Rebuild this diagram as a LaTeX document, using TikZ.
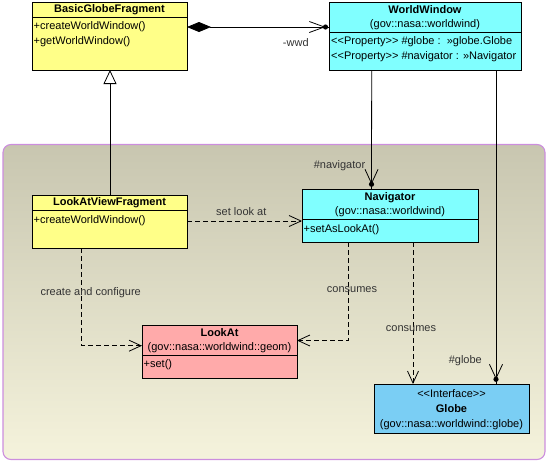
\documentclass[tikz,border=0pt]{standalone}
\usepackage{fontspec}
\setmainfont{Liberation Sans}[Ligatures=ResetAll]
\usetikzlibrary{arrows.meta,calc}
\definecolor{clsyellow}{HTML}{FFFF88}
\definecolor{clscyan}{HTML}{80FFFF}
\definecolor{clspink}{HTML}{FFAAAA}
\definecolor{clsblue}{HTML}{7ACEF4}
\definecolor{pkgtop}{HTML}{C8C6B0}
\definecolor{pkgbottom}{HTML}{F5F3DC}
\definecolor{pkgborder}{HTML}{CC8EDE}
\definecolor{lblgray}{HTML}{333333}
\begin{document}
\begin{tikzpicture}[x=1pt,y=-1pt,
  font=\fontsize{11}{13}\selectfont,
  cls/.style={draw, line width=0.9pt, anchor=north west, inner sep=0pt, outer sep=0pt},
  sepline/.style={line width=0.9pt},
  ttl/.style={inner sep=0pt, font=\fontsize{11}{13}\selectfont\bfseries},
  ctr/.style={inner sep=0pt},
  txt/.style={inner sep=0pt, anchor=west},
  lbl/.style={inner sep=0pt, text=lblgray},
  conn/.style={line width=0.8pt},
  dep/.style={conn, dash pattern=on 5pt off 3pt, -{Straight Barb[length=12pt,width=11pt,line width=0.8pt]}},
  nav/.style={conn, -{Straight Barb[length=14pt,width=13pt,line width=0.8pt]}},
  dotfill/.style={fill=black}
]
\useasboundingbox (0,0) rectangle (549,464);

% package
\draw[draw=pkgborder, line width=1.1pt, rounded corners=8pt, top color=pkgtop, bottom color=pkgbottom]
  (3,144.5) rectangle (545,459.5);

% BasicGlobeFragment
\node[cls, fill=clsyellow, minimum width=155pt, minimum height=68pt] (bgf) at (32,2) {};
\draw[sepline] ([yshift=-15.5pt]bgf.north west) -- ([yshift=-15.5pt]bgf.north east);
\node[ttl] (bgft) at (109.5,10) {BasicGlobeFragment};
\node[txt] (bgfm1) at (33.5,27) {+createWorldWindow()};
\node[txt] (bgfm2) at (33.5,42) {+getWorldWindow()};

% WorldWindow
\node[cls, fill=clscyan, minimum width=192pt, minimum height=68pt] (ww) at (329,2) {};
\draw[sepline] ([yshift=-30.5pt]ww.north west) -- ([yshift=-30.5pt]ww.north east);
\node[ttl] (wwt) at (425,10) {WorldWindow};
\node[ctr] (wws) at (425,25) {(gov::nasa::worldwind)};
\node[txt] (wwp1) at (331,42) {<{}<Property>{}> \#globe :~~»globe.Globe};
\node[txt] (wwp2) at (331,57) {<{}<Property>{}> \#navigator : »Navigator};

% LookAtViewFragment
\node[cls, fill=clsyellow, minimum width=155pt, minimum height=53pt] (lavf) at (32,195) {};
\draw[sepline] ([yshift=-15.5pt]lavf.north west) -- ([yshift=-15.5pt]lavf.north east);
\node[ttl] (lavft) at (109.5,203) {LookAtViewFragment};
\node[txt] (lavfm) at (33.5,221) {+createWorldWindow()};

% Navigator
\node[cls, fill=clscyan, minimum width=176pt, minimum height=53pt] (nav) at (302,189) {};
\draw[sepline] ([yshift=-30.5pt]nav.north west) -- ([yshift=-30.5pt]nav.north east);
\node[ttl] (navt) at (390,198) {Navigator};
\node[ctr] (navs) at (390,212) {(gov::nasa::worldwind)};
\node[txt] (navm) at (303.5,230) {+setAsLookAt()};

% LookAt
\node[cls, fill=clspink, minimum width=155pt, minimum height=53pt] (la) at (142,325) {};
\draw[sepline] ([yshift=-30.5pt]la.north west) -- ([yshift=-30.5pt]la.north east);
\node[ttl] (lat) at (219.5,333) {LookAt};
\node[ctr] (las) at (219.5,348) {(gov::nasa::worldwind::geom)};
\node[txt] (lam) at (143.5,365) {+set()};

% Globe
\node[cls, fill=clsblue, minimum width=155pt, minimum height=49pt] (gl) at (374,384) {};
\node[ctr] (glst) at (451.5,394) {<{}<Interface>{}>};
\node[ttl] (glt) at (451.5,409) {Globe};
\node[ctr] (gls) at (451.5,425) {(gov::nasa::worldwind::globe)};

% composition BasicGlobeFragment -> WorldWindow
\coordinate (wwdot) at ([xshift=-3.5pt,yshift=-25pt]ww.north west);
\draw[conn, {Diamond[length=24pt,width=10pt]}-{Straight Barb[length=15pt,width=11pt,line width=0.8pt]}]
  ([yshift=-25pt]bgf.north east) -- (wwdot);
\draw[conn] (wwdot) -- ([yshift=-25pt]ww.north west);
\fill[dotfill] (wwdot) circle (2.6pt);
\node[lbl] (wwdl) at (295.8,43) {-wwd};

% generalization
\draw[conn, -{Triangle[open,length=14pt,width=13pt,line width=0.8pt,fill=white]}]
  ([xshift=78pt]lavf.north west) -- ([xshift=78pt]bgf.south west);

% #navigator
\coordinate (navdot) at ([xshift=69.5pt,yshift=4.7pt]nav.north west);
\draw[nav] ([xshift=42.7pt]ww.south west) -- (navdot);
\draw[conn] (navdot) -- ([xshift=69.5pt]nav.north west);
\fill[dotfill] (navdot) circle (2.6pt);
\node[lbl] (navl) at (339.5,166) {\#navigator};

% #globe
\coordinate (gldot) at ([xshift=122pt,yshift=4.7pt]gl.north west);
\draw[nav] ([xshift=167pt]ww.south west) -- (gldot);
\draw[conn] (gldot) -- ([xshift=122pt]gl.north west);
\fill[dotfill] (gldot) circle (2.6pt);
\node[lbl] (gll) at (465.3,361) {\#globe};

% set look at
\draw[dep] ([yshift=-26pt]lavf.north east) -- ([yshift=-32pt]nav.north west);
\node[lbl] (sla) at (241.3,212) {set look at};

% create and configure
\draw[dep] ([xshift=49.7pt]lavf.south west) |- ([yshift=-20.7pt]la.north west);
\node[lbl] (cac) at (90.7,293) {create and configure};

% consumes (Navigator -> LookAt)
\draw[dep] ([xshift=46pt]nav.south west) |- ([yshift=-15.5pt]la.north east);
\node[lbl] (cons1) at (352,290) {consumes};

% consumes (Navigator -> Globe)
\draw[dep] ([xshift=111pt]nav.south west) -- ([xshift=39pt]gl.north west);
\node[lbl] (cons2) at (411,329) {consumes};
\end{tikzpicture}
\end{document}
